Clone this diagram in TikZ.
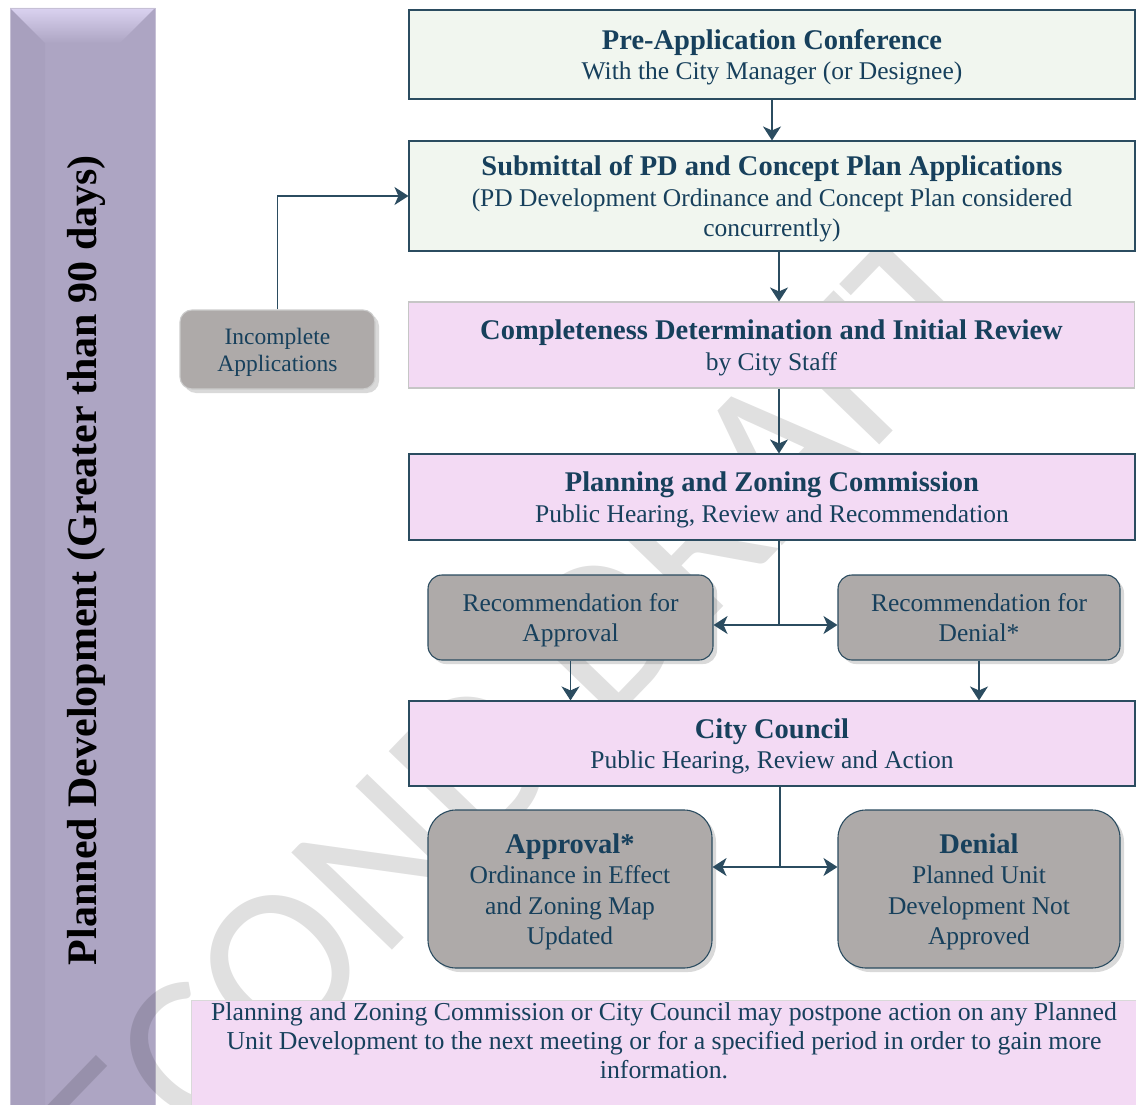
\documentclass[tikz,border=0pt]{standalone}
\usepackage{fontspec}
\setmainfont{Liberation Serif}
\newfontfamily\wmfont{Carlito}
\usetikzlibrary{arrows.meta,shadows}

\definecolor{ink}{HTML}{17405C}
\definecolor{edge}{HTML}{2B4C60}
\definecolor{mintfill}{HTML}{F1F6EF}
\definecolor{pinkfill}{HTML}{F3DAF4}
\definecolor{greyfill}{HTML}{AEAAA9}
\definecolor{barfill}{HTML}{ADA5C3}
\definecolor{barside}{HTML}{A8A0BE}
\definecolor{bartop}{HTML}{DAD2F0}

\newcommand{\headfont}{\fontsize{28.5}{30.5}\selectfont\bfseries}

\tikzset{
  stepbox/.style={rectangle,draw=edge,line width=1.1pt,text=ink,align=center,
    inner sep=2pt,text depth=0pt,font=\fontsize{25.5}{30.5}\selectfont},
  mintbox/.style={stepbox,fill=mintfill,minimum width=726pt},
  pinkbox/.style={stepbox,fill=pinkfill,minimum width=726pt},
  greybox/.style={stepbox,fill=greyfill,rounded corners=14pt,
    drop shadow={shadow xshift=4pt,shadow yshift=-4pt,opacity=.3}},
  link/.style={draw=edge,line width=1.3pt,-{Stealth[length=14pt,width=18pt,inset=4pt]}},
  joint/.style={draw=edge,line width=1.3pt},
}

\begin{document}
\begin{tikzpicture}[x=1pt,y=-1pt]
  \useasboundingbox (0,0) rectangle (1136,1105);

  % side bar
  \fill[barfill] (10,8) rectangle (155,1110);
  \fill[barside] (10,8) -- (45,43) -- (45,1110) -- (10,1110) -- cycle;
  \shade[top color=bartop,bottom color=barfill] (10,8) -- (155,8) -- (120,43) -- (45,43) -- cycle;
  \draw[barfill!70!white,line width=.8pt] (10,1110) -- (10,8) -- (155,8) -- (155,1110);
  \node[rotate=90,font=\fontsize{42}{44}\selectfont\bfseries] (bartitle) at (86,560)
    {Planned Development (Greater than 90 days)};

  % watermark
  \node[font={\wmfont\fontsize{218}{218}\selectfont},text=black,text opacity=.12,
    rotate=46] (wmark) at (486,752) {SECOND DRAFT};

  % main column
  \node[mintbox,minimum height=89pt] (pre) at (772,54.5)
    {{\headfont Pre-Application Conference}\\With the City Manager (or Designee)};
  \node[mintbox,minimum height=110pt] (sub) at (772,196)
    {{\headfont Submittal of PD and Concept Plan Applications}\\
     (PD Development Ordinance and Concept Plan considered\\concurrently)};
  \node[pinkbox,draw=gray!45,minimum height=86pt] (comp) at (771.5,345)
    {{\headfont Completeness Determination and Initial Review}\\by City Staff};
  \node[pinkbox,minimum height=86pt] (pzc) at (772,497)
    {{\headfont Planning and Zoning Commission}\\Public Hearing, Review and Recommendation};
  \node[greybox,minimum width=285pt,minimum height=85pt] (recA) at (570.5,617.5)
    {Recommendation for\\Approval};
  \node[greybox,minimum width=282pt,minimum height=85pt] (recD) at (979,617.5)
    {Recommendation for\\Denial*};
  \node[pinkbox,minimum height=85pt] (cc) at (772,743.5)
    {{\headfont City Council}\\Public Hearing, Review and Action};
  \node[greybox,rounded corners=28pt,minimum width=284pt,minimum height=158pt] (appr) at (570,889)
    {{\headfont Approval*}\\Ordinance in Effect\\and Zoning Map\\Updated};
  \node[greybox,rounded corners=28pt,minimum width=282pt,minimum height=158pt] (den) at (979,889)
    {{\headfont Denial}\\Planned Unit\\Development Not\\Approved};

  % side box
  \node[greybox,draw=gray!40,rounded corners=12pt,minimum width=195pt,minimum height=79pt,
    font=\fontsize{23.5}{27}\selectfont] (inc) at (277.5,349.5) {Incomplete\\Applications};

  % note
  \fill[pinkfill,draw=gray!30,line width=.8pt] (191,1000) rectangle (1140,1112);
  \node[text=ink,align=center,font=\fontsize{25.8}{29}\selectfont,anchor=north] (note) at (664,999)
    {Planning and Zoning Commission or City Council may postpone action on any Planned\\
     Unit Development to the next meeting or for a specified period in order to gain more\\
     information.};

  % connectors
  \coordinate (fork1) at (779,625);
  \coordinate (fork2) at (780,867);
  \draw[link] (pre.south) -- (sub.north);
  \draw[link] (sub.south -| fork1) -- (comp.north -| fork1);
  \draw[link] (comp.south -| fork1) -- (pzc.north -| fork1);
  \draw[joint] (pzc.south -| fork1) -- (fork1);
  \draw[link] (fork1) -- (fork1 -| recA.east);
  \draw[link] (fork1) -- (fork1 -| recD.west);
  \draw[link] (recA.south) -- (recA.south |- cc.north);
  \draw[link] (recD.south) -- (recD.south |- cc.north);
  \draw[joint] (cc.south -| fork2) -- (fork2);
  \draw[link] (fork2) -- (fork2 -| appr.east);
  \draw[link] (fork2) -- (fork2 -| den.west);
  \draw[link] (inc.north) |- (sub.west);
\end{tikzpicture}
\end{document}
